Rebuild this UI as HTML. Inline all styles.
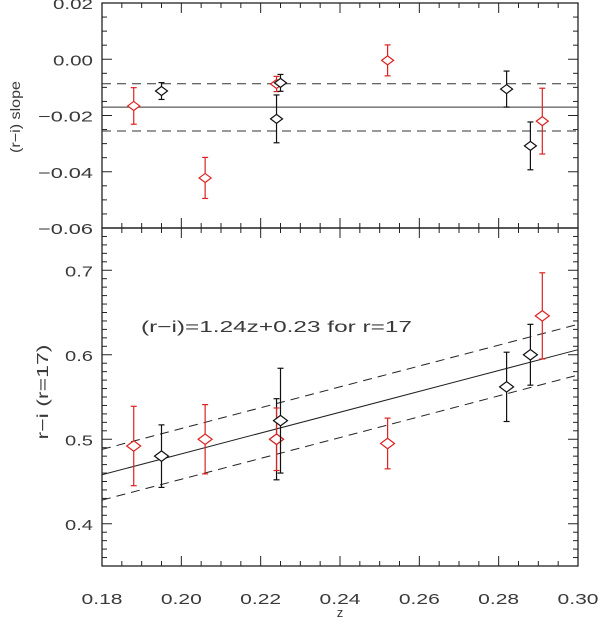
<!DOCTYPE html>
<html><head><meta charset="utf-8"><style>
body{margin:0;background:#fff;}
svg text{font-family:"Liberation Sans",sans-serif;fill:#3a3a3a;}
</style></head><body>
<svg id="chart" width="600" height="620" xmlns="http://www.w3.org/2000/svg"></svg>
<script>
const zTop=[0.188,0.195,0.206,0.224,0.224,0.225,0.252,0.282,0.288,0.291];
const slopeVals=[-0.0166,-0.0113,-0.0422,-0.0212,-0.0088,-0.0084,-0.0004,-0.0106,-0.0308,-0.022];
const slopeErrs=[0.0065,0.003,0.0073,0.0085,0.0027,0.003,0.0055,0.0064,0.0085,0.0117];
const pointColors=['red','black','red','black','red','black','red','black','black','red'];
const zBot=[0.188,0.195,0.206,0.224,0.224,0.225,0.252,0.282,0.288,0.291];
const riVals=[0.492,0.48,0.5,0.5,0.5,0.522,0.495,0.562,0.6,0.646];
const riErrs=[0.047,0.037,0.041,0.048,0.037,0.062,0.03,0.041,0.036,0.051];
const slopeMean=[-0.017];
const slopeBand=[-0.0087,-0.0255];
const fitLine=[0.458,0.606];
const fitOffset=[0.03];
const xTicks=[0.18,0.20,0.22,0.24,0.26,0.28,0.30];
const yTopTicks=[0.02,0.00,-0.02,-0.04,-0.06];
const yBotTicks=[0.4,0.5,0.6,0.7];

const NS='http://www.w3.org/2000/svg';
const svg=document.getElementById('chart');
const L=102,R=578,T1=3,B1=228,T2=228,B2=566;
const x=z=>L+(z-0.18)/(0.12)*(R-L);
const yT=v=>T1+(0.02-v)/0.08*(B1-T1);
const yB=v=>T2+(0.75-v)/0.40*(B2-T2);
function el(tag,attrs,parent){const e=document.createElementNS(NS,tag);for(const k in attrs)e.setAttribute(k,attrs[k]);(parent||svg).appendChild(e);return e;}
function line(x1,y1,x2,y2,st,dash,nm){const e=el('line',{x1,y1,x2,y2,stroke:st,'stroke-width':1});if(dash)e.setAttribute('stroke-dasharray',dash);

return e;}
function text(s,xx,yy,anchor,size,nm,rot,len){const e=el('text',{x:xx,y:yy,'text-anchor':anchor,'font-size':size});e.textContent=s;if(rot)e.setAttribute('transform','rotate(-90 '+xx+' '+yy+')');
if(len){e.setAttribute('textLength',len);e.setAttribute('lengthAdjust','spacingAndGlyphs');}

return e;}

[[T1,B1,'top-panel-frame'],[T2,B2,'bottom-panel-frame']].forEach(([t,b,n])=>{const r=el('rect',{x:L,y:t,width:R-L,height:b-t,fill:'none',stroke:'#222','stroke-width':1.3});

});
for(let i=0;i<=24;i++){const z=0.18+i*0.005,px=x(z),maj=i%4==0,len=maj?10:5;
[[T1,B1],[T2,B2]].forEach(([t,b])=>{line(px,b,px,b-len,'#222',null,'x-tick');line(px,t,px,t+len,'#222',null,'x-tick');});}
xTicks.forEach(v=>text(v.toFixed(2),x(v),604,'middle',15,'x-tick-label',false,41));
text('z',x(0.24),617,'middle',13,'x-axis-title');
for(let i=0;i<=16;i++){const v=0.02-i*0.005,py=yT(v),maj=i%4==0,len=maj?10:5;line(L,py,L+len,py,'#222',null,'y-tick');line(R,py,R-len,py,'#222',null,'y-tick');}
yTopTicks.forEach(v=>text((v<0?'\u2212':'')+Math.abs(v).toFixed(2),93,yT(v)+6,'end',15,'y-top-tick-label',false,v<0?55:40));
text('(r\u2212i) slope',20,117,'middle',14,'y-top-axis-title',true,72);
for(let i=0;i<=40;i++){const v=0.35+i*0.01,py=yB(v),maj=(i%10==5),len=maj?10:5;line(L,py,L+len,py,'#222',null,'y-tick');line(R,py,R-len,py,'#222',null,'y-tick');}
yBotTicks.forEach(v=>text(v.toFixed(1),93,yB(v)+6,'end',15,'y-bottom-tick-label',false,28));
text('r\u2212i  (r=17)',48,392,'middle',16,'y-bottom-axis-title',true,95);
line(L,yT(slopeMean[0]),R,yT(slopeMean[0]),'#333',null,'mean-slope-line');
slopeBand.forEach(v=>line(L,yT(v),R,yT(v),'#333','9,6','slope-band-line'));
line(L,yB(fitLine[0]),R,yB(fitLine[1]),'#222',null,'fit-line');
[1,-1].forEach(s=>line(L,yB(fitLine[0]+s*fitOffset[0]),R,yB(fitLine[1]+s*fitOffset[0]),'#222','9,6','fit-band-line'));
text('(r\u2212i)=1.24z+0.23 for r=17',141,332,'start',16,'fit-annotation',false,271);
function pt(z,v,e,c,yf,r,nm){const col=c=='red'?'#d22':'#111';const px=x(z),py=yf(v),y1=yf(v+e),y2=yf(v-e);
const g=el('g',{});


el('line',{x1:px,y1:y1,x2:px,y2:y2,stroke:col,'stroke-width':1.2},g);
el('line',{x1:px-3,y1:y1,x2:px+3,y2:y1,stroke:col,'stroke-width':1.2},g);
el('line',{x1:px-3,y1:y2,x2:px+3,y2:y2,stroke:col,'stroke-width':1.2},g);
el('polygon',{points:`${px-r},${py} ${px},${py-r*0.75} ${px+r},${py} ${px},${py+r*0.75}`,fill:'#fff',stroke:col,'stroke-width':1.2},g);}
zTop.forEach((z,i)=>pt(z,slopeVals[i],slopeErrs[i],pointColors[i],yT,6,'slope-point'));
zBot.forEach((z,i)=>pt(z,riVals[i],riErrs[i],pointColors[i],yB,7,'color-point'));
</script>
</body></html>
